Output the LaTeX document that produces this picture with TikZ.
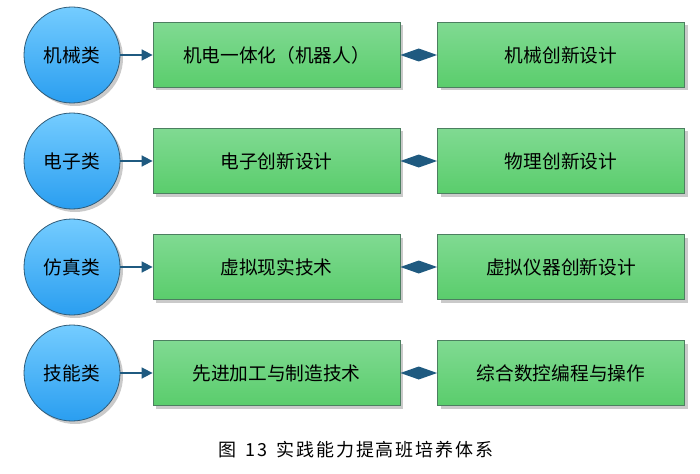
\documentclass[tikz,border=0pt]{standalone}
\usepackage{fontspec}
\setmainfont{Noto Sans CJK SC}
\newfontfamily\capfont[LetterSpace=11,Weight=Light]{Noto Sans CJK SC}
\usetikzlibrary{shadows,arrows.meta,calc}
\definecolor{cirtop}{HTML}{74CCFF}
\definecolor{cirbot}{HTML}{2A9EF0}
\definecolor{cirline}{HTML}{2F5B78}
\definecolor{boxtop}{HTML}{80DA92}
\definecolor{boxbot}{HTML}{5ACD6C}
\definecolor{boxline}{HTML}{4C7F60}
\definecolor{conn}{HTML}{1F5A80}
\tikzset{
  cat/.style={circle, minimum size=96pt, inner sep=0pt, draw=cirline, line width=0.8pt,
    top color=cirtop, bottom color=cirbot, font=\fontsize{18.7}{19}\selectfont,
    drop shadow={shadow xshift=3pt, shadow yshift=-3pt, opacity=0.35, fill=black!60}},
  item/.style={rectangle, minimum width=247pt, minimum height=65pt, inner sep=0pt, draw=boxline, line width=0.8pt,
    top color=boxtop, bottom color=boxbot, font=\fontsize{18.7}{19}\selectfont,
    drop shadow={shadow xshift=3pt, shadow yshift=-3pt, opacity=0.35, fill=black!60}},
  link/.style={draw=conn, line width=1.6pt, -{Triangle[length=11pt,width=11pt]}},
  dia/.style={fill=conn, draw=none},
}
\begin{document}
\begin{tikzpicture}[x=1pt,y=-1pt]
\useasboundingbox (0,0) rectangle (700,473);
\foreach \i/\c/\a/\b [count=\n] in {0/机械类/机电一体化（机器人）/机械创新设计,
  1/电子类/电子创新设计/物理创新设计,
  2/仿真类/虚拟现实技术/虚拟仪器创新设计,
  3/技能类/先进加工与制造技术/综合数控编程与操作}{
  \pgfmathsetmacro{\yy}{55+106*\i}
  \node[cat] (c\n) at (72,\yy) {\c};
  \node[item] (l\n) at (276.5,\yy) {\a};
  \node[item] (r\n) at (561,\yy) {\b};
  \draw[link] (c\n.east) -- (l\n.west);
  \fill[dia] (l\n.east) -- ([yshift=-6.5pt]$(l\n.east)!0.5!(r\n.west)$) -- (r\n.west) -- ([yshift=6.5pt]$(l\n.east)!0.5!(r\n.west)$) -- cycle;
}
\node[font=\capfont\fontsize{18}{18}\selectfont] (cap) at (356,450) {图\hspace{0.5em}13\hspace{0.5em}实践能力提高班培养体系};
\end{tikzpicture}
\end{document}
